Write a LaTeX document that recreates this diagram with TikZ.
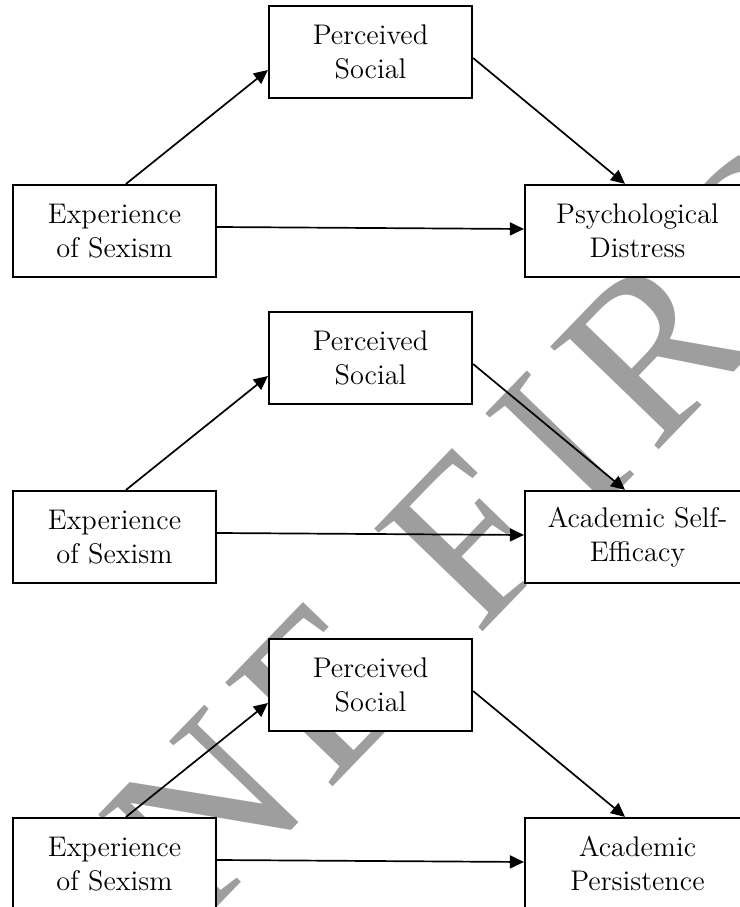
\documentclass[tikz,border=0pt]{standalone}
\usepackage{fontspec}
\usepackage{tikz}
\usetikzlibrary{arrows.meta,positioning}
\newfontfamily\wmfont[LetterSpace=8]{Liberation Serif}
\definecolor{wmgray}{RGB}{158,158,158}

\begin{document}
\begin{tikzpicture}[x=0.5pt,y=0.5pt,>={Triangle[length=7pt,width=6.5pt]},on grid,
    var node/.style={rectangle,draw,fill=white,line width=1.1pt,minimum width=101.5pt,minimum height=46pt,align=center,font=\fontsize{14.2}{17}\selectfont},
    out node/.style={var node,minimum width=112.5pt}]
    \useasboundingbox (0,0) rectangle (740,907);
    \clip (0,0) rectangle (740,907);
    % watermark behind the boxes
    \node[text=wmgray,font=\wmfont\fontsize{114}{114}\selectfont,rotate=46,anchor=base west,inner sep=0pt] (wm) at (-227.5,-460.6) {ONLINE F\kern16pt IRST};

    \node[var node] (1) at (114.5,676) {Experience\\of Sexism};
    \node[var node] (2) [above right=89.5pt and 128pt of 1] {Perceived\\Social};
    \node[out node] (3) [right=261.5pt of 1] {Psychological\\Distress};

    \node[var node] (4) at (114.5,370) {Experience\\of Sexism};
    \node[var node] (5) [above right=89.5pt and 128pt of 4] {Perceived\\Social};
    \node[out node] (6) [right=261.5pt of 4] {Academic Self-\\Efficacy};

    \node[var node] (7) at (114.5,43) {Experience\\of Sexism};
    \node[var node] (8) [above right=89.5pt and 128pt of 7] {Perceived\\Social};
    \node[out node] (9) [right=261.5pt of 7] {Academic\\Persistence};

    \path[->,line width=0.85pt]
    ([xshift=5.75pt]1.north) edge ([yshift=-9pt]2.west)
    ([yshift=-3pt]2.east) edge ([xshift=-6.25pt]3.north)
    ([yshift=2pt]1.east) edge ([yshift=1pt]3.west)
    ([xshift=5.75pt]4.north) edge ([yshift=-9pt]5.west)
    ([yshift=-3pt]5.east) edge ([xshift=-6.25pt]6.north)
    ([yshift=2pt]4.east) edge ([yshift=1pt]6.west)
    ([xshift=5.75pt]7.north) edge ([yshift=-9pt]8.west)
    ([yshift=-3pt]8.east) edge ([xshift=-6.25pt]9.north)
    ([yshift=2pt]7.east) edge ([yshift=1pt]9.west);
\end{tikzpicture}
\end{document}
